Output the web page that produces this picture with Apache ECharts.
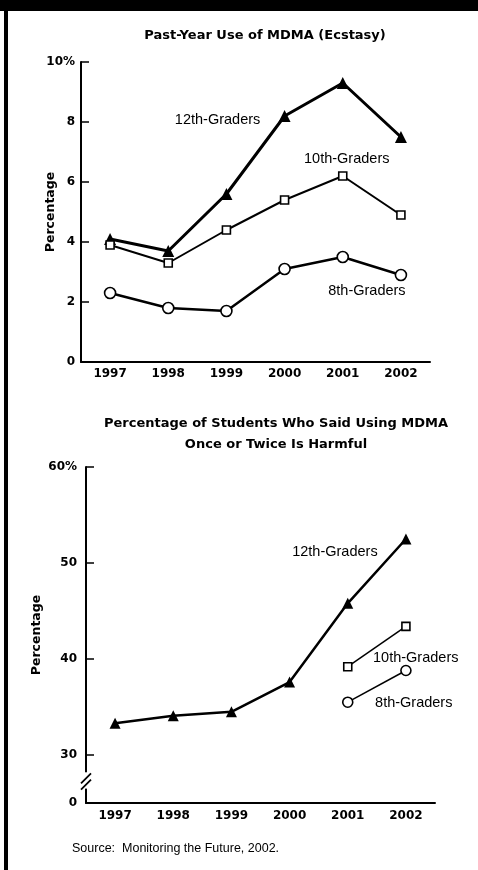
<!DOCTYPE html>
<html>
<head>
<meta charset="utf-8">
<script src="https://cdn.jsdelivr.net/npm/echarts@6/dist/echarts.min.js"></script>
<style>
  html, body { margin: 0; padding: 0; background: #fff; }
  #chart { position: absolute; left: 0; top: 0; width: 478px; height: 870px; }
  .bar-top { position: absolute; left: 0; top: 0; width: 478px; height: 11px; background: #000; }
  .bar-left { position: absolute; left: 4px; top: 0; width: 4px; height: 870px; background: #000; }
</style>
</head>
<body>
<div id="chart"></div>
<div class="bar-top"></div>
<div class="bar-left"></div>
<script>
const years = ['1997', '1998', '1999', '2000', '2001', '2002']

// past-year use (%)
const use12 = [4.1, 3.7, 5.6, 8.2, 9.3, 7.5]
const use10 = [3.9, 3.3, 4.4, 5.4, 6.2, 4.9]
const use8 = [2.3, 1.8, 1.7, 3.1, 3.5, 2.9]

// said once or twice is harmful (%)
const harm12 = [33.3, 34.1, 34.5, 37.6, 45.8, 52.5]
const harm10 = [null, null, null, null, 39.2, 43.4]
const harm8 = [null, null, null, null, 35.5, 38.8]

const useTicks = [0, 2, 4, 6, 8, 10]
const harmTicks = [25, 30, 40, 50, 60]

const font = 'Liberation Sans'
const boldFont = 'DejaVu Sans'
const chart = echarts.init(document.getElementById('chart'))

// put a text label on one point of a series
const withLabel = (arr, idx, text, offset) => arr.map((v, i) => {
  if (i !== idx) return v
  return {
    value: v,
    label: {
      show: true, formatter: text, position: 'inside', offset: offset,
      color: '#000', fontFamily: font, fontSize: 14.5, fontWeight: 'normal'
    }
  }
})

const xAxisBase = {
  type: 'category',
  data: years,
  boundaryGap: true,
  axisLine: { lineStyle: { color: '#000', width: 2 } },
  axisTick: { alignWithLabel: true, inside: true, length: 7, lineStyle: { color: '#000', width: 1.5 } },
  axisLabel: { color: '#000', fontFamily: boldFont, fontSize: 12, fontWeight: 'bold', margin: 6 },
  splitLine: { show: false }
}

const yAxisBase = {
  type: 'value',
  nameLocation: 'middle',
  nameMoveOverlap: false,
  nameTextStyle: { color: '#000', fontFamily: boldFont, fontSize: 12.5, fontWeight: 'bold' },
  axisLine: { show: true, lineStyle: { color: '#000', width: 2 } },
  axisTick: { show: true, inside: true, length: 8, lineStyle: { color: '#000', width: 1.5 } },
  splitLine: { show: false }
}

const lineBase = (sym, size, lw, fill) => ({
  type: 'line',
  symbol: sym,
  symbolSize: size,
  showAllSymbol: true,
  connectNulls: false,
  lineStyle: { color: '#000', width: lw },
  itemStyle: { color: fill, borderColor: '#000', borderWidth: fill === '#000' ? 0 : 1.6 },
  emphasis: { disabled: true },
  z: 3
})

const option = {
  animation: false,
  backgroundColor: '#fff',
  title: [
    {
      text: 'Past-Year Use of MDMA (Ecstasy)',
      left: 265, top: 28, textAlign: 'center', padding: 0,
      textStyle: { color: '#000', fontFamily: boldFont, fontSize: 13, fontWeight: 'bold', lineHeight: 16 }
    },
    {
      text: 'Percentage of Students Who Said Using MDMA\nOnce or Twice Is Harmful',
      left: 276, top: 413, textAlign: 'center', padding: 0,
      textStyle: { color: '#000', fontFamily: boldFont, fontSize: 13, fontWeight: 'bold', lineHeight: 21 }
    },
    {
      text: 'Source:  Monitoring the Future, 2002.',
      left: 72, top: 842, padding: 0,
      textStyle: { color: '#000', fontFamily: font, fontSize: 12.5, fontWeight: 'normal', lineHeight: 14 }
    }
  ],
  grid: [
    { left: 81, top: 62, width: 349, height: 300 },
    { left: 86, top: 467, width: 349, height: 336 }
  ],
  xAxis: [
    Object.assign({}, xAxisBase, { gridIndex: 0 }),
    Object.assign({}, xAxisBase, { gridIndex: 1, axisLabel: Object.assign({}, xAxisBase.axisLabel, { margin: 7 }) })
  ],
  yAxis: [
    Object.assign({}, yAxisBase, {
      gridIndex: 0, min: 0, max: 10, interval: 2,
      name: 'Percentage', nameGap: 24,
      axisLabel: {
        color: '#000', fontFamily: boldFont, fontSize: 12, fontWeight: 'bold', margin: 6,
        formatter: v => v === 10 ? '10%' : String(v)
      }
    }),
    Object.assign({}, yAxisBase, {
      gridIndex: 1, min: 25, max: 60,
      name: 'Percentage', nameGap: 43,
      axisTick: Object.assign({}, yAxisBase.axisTick, { customValues: harmTicks.slice(1) }),
      axisLabel: {
        color: '#000', fontFamily: boldFont, fontSize: 12, fontWeight: 'bold', margin: 9,
        customValues: harmTicks,
        formatter: v => v === 25 ? '0' : (v === 60 ? '60%' : String(v))
      }
    })
  ],
  series: [
    Object.assign(lineBase('triangle', 12, 3, '#000'), {
      name: '12th use', xAxisIndex: 0, yAxisIndex: 0,
      data: withLabel(use12, 3, '12th-Graders', [-67, 4])
    }),
    Object.assign(lineBase('rect', 8, 2, '#fff'), {
      name: '10th use', xAxisIndex: 0, yAxisIndex: 0,
      data: withLabel(use10, 4, '10th-Graders', [4, -17])
    }),
    Object.assign(lineBase('circle', 11, 2.5, '#fff'), {
      name: '8th use', xAxisIndex: 0, yAxisIndex: 0,
      data: withLabel(use8, 5, '8th-Graders', [-34, 16])
    }),
    Object.assign(lineBase('triangle', 11, 2.5, '#000'), {
      name: '12th harm', xAxisIndex: 1, yAxisIndex: 1,
      data: withLabel(harm12, 5, '12th-Graders', [-71, 13])
    }),
    Object.assign(lineBase('rect', 8, 1.5, '#fff'), {
      name: '10th harm', xAxisIndex: 1, yAxisIndex: 1,
      data: withLabel(harm10, 4, '10th-Graders', [68, -9])
    }),
    Object.assign(lineBase('circle', 10, 1.5, '#fff'), {
      name: '8th harm', xAxisIndex: 1, yAxisIndex: 1,
      data: withLabel(harm8, 4, '8th-Graders', [66, 1])
    })
  ]
}

chart.setOption(option)

// axis break mark between 0 and 30 on the lower chart
const ax = 86
const yTop = chart.convertToPixel({ yAxisIndex: 1 }, 28.2)
const yBot = chart.convertToPixel({ yAxisIndex: 1 }, 26.5)
chart.setOption({
  graphic: [
    { type: 'rect', shape: { x: ax - 4, y: yTop, width: 8, height: yBot - yTop }, style: { fill: '#fff' }, z: 10 },
    { type: 'line', shape: { x1: ax - 5, y1: yTop + 11, x2: ax + 5, y2: yTop + 1 }, style: { stroke: '#000', lineWidth: 1.8 }, z: 11 },
    { type: 'line', shape: { x1: ax - 5, y1: yBot + 1, x2: ax + 5, y2: yBot - 9 }, style: { stroke: '#000', lineWidth: 1.8 }, z: 11 }
  ]
})
</script>
</body>
</html>
